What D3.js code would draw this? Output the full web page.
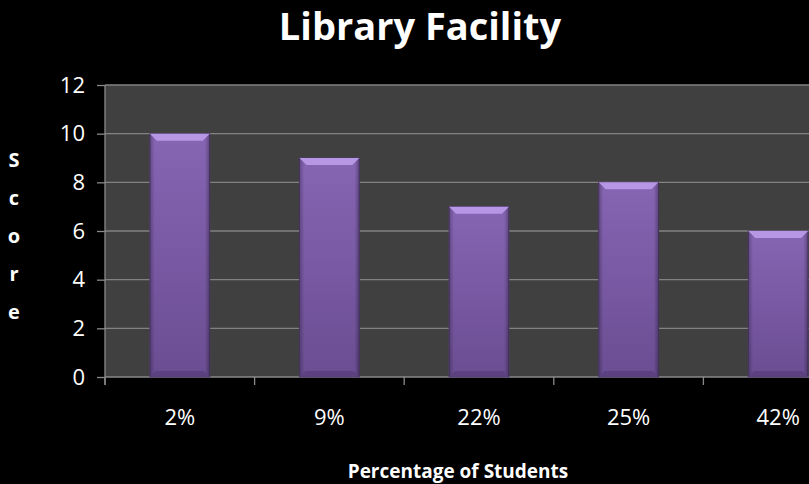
<!DOCTYPE html>
<html>
<head>
<meta charset="utf-8">
<script src="https://cdn.jsdelivr.net/npm/d3@7"></script>
<style>
  body { margin: 0; background: #000; }
  svg { display: block; font-family: "Open Sans", "Lato", sans-serif; }
</style>
</head>
<body>
<svg id="chart" width="809" height="484"></svg>
<script>
// chart data
const categories = ["2%", "9%", "22%", "25%", "42%"];
const scores = [10, 9, 7, 8, 6];
const yTicks = [0, 2, 4, 6, 8, 10, 12];

const W = 809, H = 484;
const margin = { top: 85, left: 105, bottom: 107 };
const plotBottom = H - margin.bottom;
const plotRight = 853; // plot area runs past the right edge of the picture

const svg = d3.select("#chart");
svg.append("rect").attr("width", W).attr("height", H).attr("fill", "#000");

const x = d3.scaleBand()
    .domain(categories)
    .range([margin.left, plotRight])
    .paddingInner(0.6)
    .paddingOuter(0.3);

const y = d3.scaleLinear()
    .domain([0, 12])
    .range([plotBottom, margin.top]);

// gradients for bar bevel look
const defs = svg.append("defs");
const g = defs.append("linearGradient").attr("id", "barGrad").attr("x1", 0).attr("x2", 0).attr("y1", 0).attr("y2", 1);
g.append("stop").attr("offset", "0%").attr("stop-color", "#8665b3");
g.append("stop").attr("offset", "100%").attr("stop-color", "#6a4d92");
const gh = defs.append("linearGradient").attr("id", "sideGrad").attr("x1", 0).attr("x2", 1).attr("y1", 0).attr("y2", 0);
gh.append("stop").attr("offset", "0%").attr("stop-color", "#000").attr("stop-opacity", 0.25);
gh.append("stop").attr("offset", "8%").attr("stop-color", "#000").attr("stop-opacity", 0);
gh.append("stop").attr("offset", "92%").attr("stop-color", "#000").attr("stop-opacity", 0);
gh.append("stop").attr("offset", "100%").attr("stop-color", "#000").attr("stop-opacity", 0.3);

// plot area
svg.append("rect")
    .attr("x", margin.left).attr("y", margin.top)
    .attr("width", plotRight - margin.left).attr("height", plotBottom - margin.top)
    .attr("fill", "#404040");

// gridlines
svg.append("g")
    .selectAll("line")
    .data(yTicks.filter(d => d > 0))
    .enter().append("line")
    .attr("x1", margin.left).attr("x2", plotRight)
    .attr("y1", d => y(d)).attr("y2", d => y(d))
    .attr("stroke", "#828282").attr("stroke-width", 1.3);

// y axis
const yAxis = svg.append("g")
    .attr("transform", `translate(${margin.left},0)`)
    .call(d3.axisLeft(y).tickValues(yTicks).tickSize(8).tickPadding(12));
yAxis.select(".domain").remove();
yAxis.append("line").attr("y1", margin.top).attr("y2", plotBottom + 8);
yAxis.selectAll("line").attr("stroke", "#8a8a8a").attr("stroke-width", 1.3);
yAxis.selectAll("text").attr("font-size", 22).attr("fill", "#fff").attr("font-family", "Open Sans");

// x axis with ticks on the category boundaries
const xAxisG = svg.append("g").attr("transform", `translate(0,${plotBottom})`);
xAxisG.append("line")
    .attr("x1", margin.left).attr("x2", plotRight)
    .attr("stroke", "#8a8a8a").attr("stroke-width", 1.3);
const step = x.step();
const bounds = d3.range(categories.length + 1).map(i => margin.left + i * step);
xAxisG.selectAll(".xt").data(bounds).enter().append("line")
    .attr("x1", d => d).attr("x2", d => d)
    .attr("y1", 0).attr("y2", 8)
    .attr("stroke", "#8a8a8a").attr("stroke-width", 1.3);
xAxisG.selectAll(".xl").data(categories).enter().append("text")
    .attr("x", d => x(d) + x.bandwidth() / 2)
    .attr("y", 48)
    .attr("text-anchor", "middle")
    .attr("font-size", 22)
    .attr("fill", "#fff")
    .text(d => d);

// bars
const bars = svg.append("g").selectAll("g")
    .data(categories.map((c, i) => ({ c, v: scores[i] })))
    .enter().append("g");

bars.append("rect")
    .attr("x", d => x(d.c)).attr("y", d => y(d.v))
    .attr("width", x.bandwidth()).attr("height", d => plotBottom - y(d.v))
    .attr("fill", "url(#barGrad)")
    .attr("stroke", "#4f3a6e").attr("stroke-width", 1);
bars.append("rect")
    .attr("x", d => x(d.c)).attr("y", d => y(d.v))
    .attr("width", x.bandwidth()).attr("height", d => plotBottom - y(d.v))
    .attr("fill", "url(#sideGrad)");
// top bevel
bars.append("path")
    .attr("d", d => {
        const x0 = x(d.c), x1 = x0 + x.bandwidth(), t = y(d.v), b = 7;
        return `M${x0},${t}L${x1},${t}L${x1 - b},${t + b}L${x0 + b},${t + b}Z`;
    })
    .attr("fill", "#b597e6");
// bottom bevel
bars.append("path")
    .attr("d", d => {
        const x0 = x(d.c), x1 = x0 + x.bandwidth(), bt = plotBottom, b = 6;
        return `M${x0},${bt}L${x1},${bt}L${x1 - b},${bt - b}L${x0 + b},${bt - b}Z`;
    })
    .attr("fill", "#5b4180");

// title
svg.append("text")
    .attr("x", 420).attr("y", 40)
    .attr("text-anchor", "middle")
    .attr("font-size", 38).attr("font-weight", "bold")
    .attr("fill", "#fff")
    .text("Library Facility");

// x axis title
svg.append("text")
    .attr("x", 458).attr("y", 478)
    .attr("text-anchor", "middle")
    .attr("font-size", 19).attr("font-weight", "bold")
    .attr("fill", "#fff")
    .text("Percentage of Students");

// y axis title, letters stacked
svg.append("text")
    .attr("x", 14).attr("y", 167)
    .attr("text-anchor", "middle")
    .attr("font-size", 20).attr("font-weight", "bold")
    .attr("fill", "#fff")
    .selectAll("tspan")
    .data("Score".split(""))
    .enter().append("tspan")
    .attr("x", 14)
    .attr("dy", (d, i) => i === 0 ? 0 : 38)
    .text(d => d);
</script>
</body>
</html>
